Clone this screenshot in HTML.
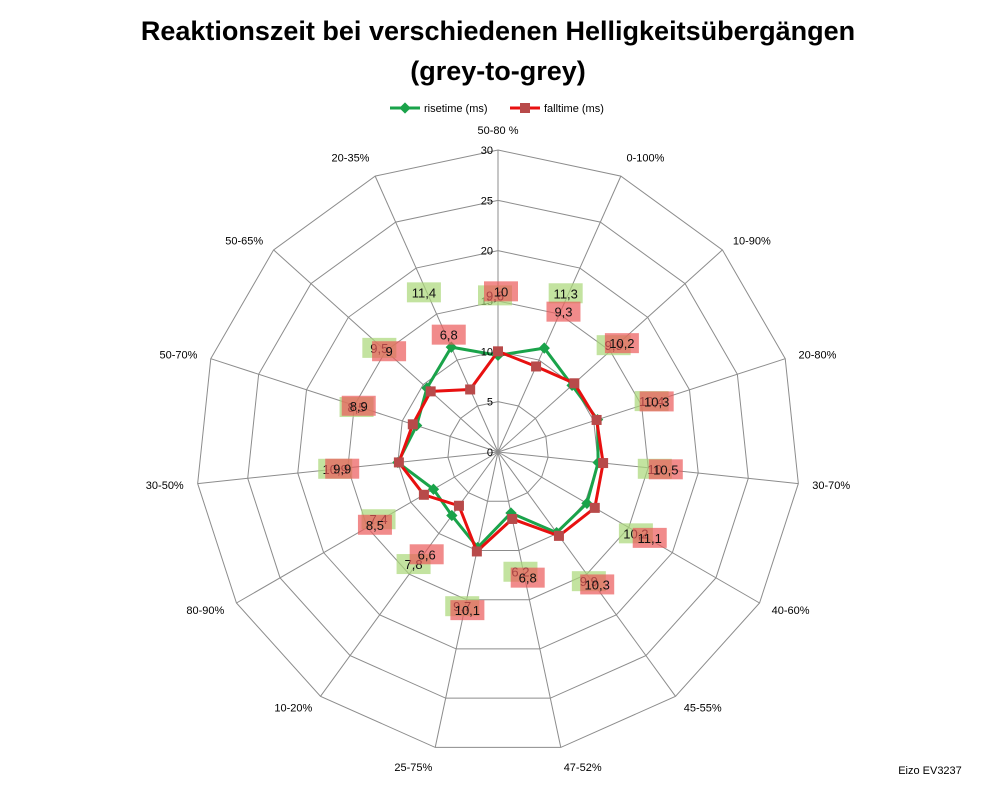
<!DOCTYPE html>
<html><head><meta charset="utf-8"><style>
body{margin:0;background:#fff;}
svg{display:block;font-family:"Liberation Sans",Arial,sans-serif;}
</style></head><body>
<svg id="chart" width="998" height="786" viewBox="0 0 998 786">
<text x="498" y="40" text-anchor="middle" font-size="27" font-weight="bold">Reaktionszeit bei verschiedenen Helligkeitsübergängen</text>
<text x="498" y="80" text-anchor="middle" font-size="27" font-weight="bold">(grey-to-grey)</text>
<g>
<g>
<line x1="390" y1="108" x2="420" y2="108" stroke="#1aa34a" stroke-width="3"/>
<rect x="401" y="104" width="8" height="8" fill="#1aa34a" transform="rotate(45 405 108)"/>
<text x="424" y="112" font-size="11">risetime (ms)</text></g>
<g>
<line x1="510" y1="108" x2="540" y2="108" stroke="#e81010" stroke-width="3"/>
<rect x="520" y="103" width="10" height="10" fill="#b84a4a"/>
<text x="544" y="112" font-size="11">falltime (ms)</text></g>
</g>
<g id="grid"></g><g id="series"></g><g id="labels"></g>
<text x="930" y="774" text-anchor="middle" font-size="11">Eizo EV3237</text>
</svg>
<script>
const categories=["50-80 %","0-100%","10-90%","20-80%","30-70%","40-60%","45-55%","47-52%","25-75%","10-20%","80-90%","30-50%","50-70%","50-65%","20-35%"];
const risetime=[9.6,11.3,9.9,10.4,10.0,10.2,9.9,6.2,9.7,7.8,7.4,10.0,8.5,9.5,11.4];
const falltime=[10,9.3,10.2,10.3,10.5,11.1,10.3,6.8,10.1,6.6,8.5,9.9,8.9,9,6.8];
const riseLabels=["9,6","11,3","9,9","10,4","10","10,2","9,9","6,2","9,7","7,8","7,4","10,9","8,5","9,5","11,4"];
const fallLabels=["10","9,3","10,2","10,3","10,5","11,1","10,3","6,8","10,1","6,6","8,5","9,9","8,9","9","6,8"];
const ticks=[0,5,10,15,20,25,30];
const NS="http://www.w3.org/2000/svg";
const cx=498,cy=452,R=302,maxV=30,n=categories.length;
function ang(i){return i*2*Math.PI/n;}
function pt(i,v){const r=v/maxV*R;return [cx+r*Math.sin(ang(i)),cy-r*Math.cos(ang(i))];}
function mk(tag,attrs,parent){const e=document.createElementNS(NS,tag);for(const k in attrs)e.setAttribute(k,attrs[k]);parent.appendChild(e);return e;}
const grid=document.getElementById('grid'),series=document.getElementById('series'),labels=document.getElementById('labels');
ticks.forEach(t=>{if(t===0)return;const p=categories.map((c,i)=>pt(i,t).join(',')).join(' ');
const g=mk('polygon',{points:p,fill:'none',stroke:'#8c8c8c','stroke-width':1},grid);

});
categories.forEach((c,i)=>{const [x,y]=pt(i,maxV);
const l=mk('line',{x1:cx,y1:cy,x2:x,y2:y,stroke:'#8c8c8c','stroke-width':1},grid);


const s=Math.sin(ang(i)),co=Math.cos(ang(i));
const lx=cx+(R+14)*s,ly=cy-(R+14)*co+4-(co>0.9?6:0)+(co<-0.9?6:0);
const anchor=Math.abs(s)<0.15?'middle':(s>0?'start':'end');
const t=mk('text',{x:lx,y:ly,'font-size':11,'text-anchor':anchor},labels);
t.textContent=c;

});
ticks.forEach(t=>{const [x,y]=pt(0,t);
const e=mk('text',{x:x-5,y:y+4,'font-size':11,'text-anchor':'end'},labels);
e.textContent=t;

});
function drawSeries(vals,color,marker,name){
const p=vals.map((v,i)=>pt(i,v).join(',')).join(' ');
const pg=mk('polygon',{points:p,fill:'none',stroke:color,'stroke-width':3,'stroke-linejoin':'round'},series);


vals.forEach((v,i)=>{const [x,y]=pt(i,v);let m;
if(marker==='d'){m=mk('rect',{x:x-4,y:y-4,width:8,height:8,fill:color,transform:`rotate(45 ${x} ${y})`},series);}
else{m=mk('rect',{x:x-5,y:y-5,width:10,height:10,fill:'#b84a4a'},series);}

});}
drawSeries(risetime,'#1aa34a','d','risetime');
drawSeries(falltime,'#e81010','s','falltime');
function drawLabels(vals,txt,bg,name,dx){
vals.forEach((v,i)=>{const [x0,y0]=pt(i,v);const s=Math.sin(ang(i)),co=Math.cos(ang(i));
const x=x0+60*s+dx,y=y0-60*co;
const r=mk('rect',{x:x-17,y:y-10,width:34,height:20,fill:bg},labels);


const t=mk('text',{x:x,y:y+5,'font-size':13,'text-anchor':'middle',fill:'#111'},labels);
t.textContent=txt[i];

});}
drawLabels(risetime,riseLabels,'rgba(170,215,120,0.7)','risetime',-3);
drawLabels(falltime,fallLabels,'rgba(235,90,90,0.7)','falltime',3);
</script>
</body></html>
